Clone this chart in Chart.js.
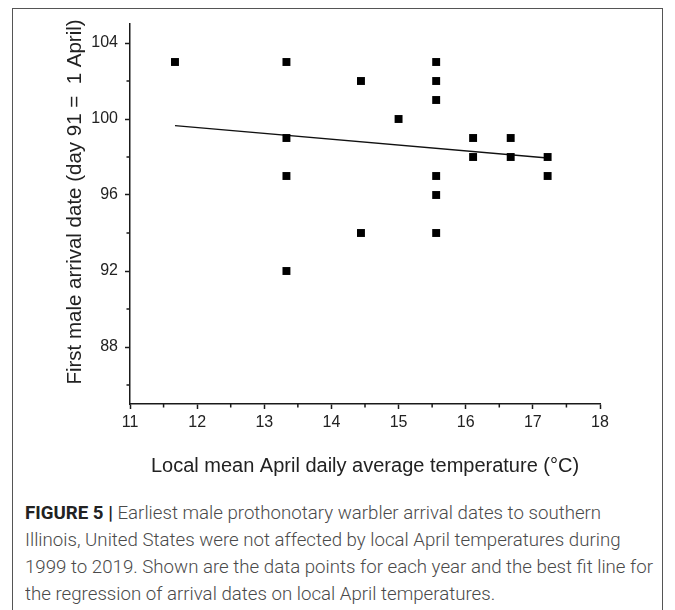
<!DOCTYPE html>
<html><head><meta charset="utf-8">
<script src="https://cdn.jsdelivr.net/npm/chart.js@4.4.1/dist/chart.umd.min.js"></script>
<style>
html,body{margin:0;padding:0;background:#fff;width:675px;height:610px;overflow:hidden;}
#frame{position:absolute;left:12px;top:8px;width:651px;height:700px;border:1.5px solid #555;box-sizing:border-box;}
#wrap{position:absolute;left:0;top:0;width:675px;height:490px;}
#caption{position:absolute;left:25px;top:499px;font-family:Roboto,'Liberation Sans',sans-serif;font-weight:300;font-size:18px;line-height:27px;color:#4a4a4a;}
.line{position:absolute;left:0;white-space:nowrap;transform-origin:0 0;}
.line b{color:#222;font-weight:700;}
</style></head><body>
<div id="frame"></div>
<div id="wrap"><canvas id="c" width="675" height="490"></canvas></div>
<div id="caption">
<div class="line" style="top:0px"><b>FIGURE 5 |</b> Earliest male prothonotary warbler arrival dates to southern</div>
<div class="line" style="top:27px">Illinois, United States were not affected by local April temperatures during</div>
<div class="line" id="refline" style="top:54px">1999 to 2019. Shown are the data points for each year and the best fit line for</div>
<div class="line" style="top:81px">the regression of arrival dates on local April temperatures.</div>
</div>
<script>
// ---- data ----
const tempC = [11.67, 13.33, 13.33, 13.33, 13.33, 14.44, 14.44, 15.0, 15.56, 15.56, 15.56, 15.56, 15.56, 15.56, 16.11, 16.11, 16.67, 16.67, 17.22, 17.22];
const arrivalDay = [103, 103, 99, 97, 92, 102, 94, 100, 103, 102, 101, 97, 96, 94, 99, 98, 99, 98, 98, 97];
const fitX = [11.67, 17.22];
const fitY = [99.65, 97.95];
const xMajorTicks = [11, 12, 13, 14, 15, 16, 17, 18];
const xMinorTicks = [11.5, 12.5, 13.5, 14.5, 15.5, 16.5, 17.5];
const yMajorTicks = [88, 92, 96, 100, 104];
const yMinorTicks = [86, 90, 94, 98, 102];
const xTitle = 'Local mean April daily average temperature (°C)';
const yTitle = 'First male arrival date (day 91 =  1 April)';

// fit caption width
(function(){
  const ref = document.getElementById('refline');
  const w = ref.getBoundingClientRect().width;
  const s = 628 / w;
  document.querySelectorAll('.line').forEach(el => el.style.transform = 'scaleX(' + s + ')');
})();

const axisColor = '#1a1a1a';
const fontFam = "'Liberation Sans', Arial, sans-serif";
const tickFont = {family: fontFam, size: 16};

const extrasPlugin = {
  id: 'extras',
  afterDraw(chart) {
    const ctx = chart.ctx;
    const xs = chart.scales.x, ys = chart.scales.y;
    const a = chart.chartArea;
    ctx.save();
    ctx.strokeStyle = axisColor;
    ctx.lineWidth = 1.5;
    ctx.beginPath();
    xMinorTicks.forEach(v => {
      const px = xs.getPixelForValue(v);
      ctx.moveTo(px, a.bottom); ctx.lineTo(px, a.bottom + 3.5);
    });
    yMinorTicks.forEach(v => {
      const py = ys.getPixelForValue(v);
      ctx.moveTo(a.left, py); ctx.lineTo(a.left - 3.5, py);
    });
    ctx.stroke();
    // y axis title
    ctx.translate(75, 202);
    ctx.rotate(-Math.PI / 2);
    ctx.fillStyle = '#222';
    ctx.font = '20.5px ' + fontFam;
    ctx.textAlign = 'center';
    ctx.textBaseline = 'middle';
    ctx.fillText(yTitle, 0, 0);
    ctx.restore();
  }
};

new Chart(document.getElementById('c'), {
  type: 'scatter',
  data: {
    datasets: [
      {
        type: 'scatter',
        data: tempC.map((t, i) => ({x: t, y: arrivalDay[i]})),
        backgroundColor: '#000',
        borderWidth: 0,
        pointStyle: 'rect',
        pointRadius: 5.6,
        pointHoverRadius: 5.6
      },
      {
        type: 'line',
        data: fitX.map((x, i) => ({x: x, y: fitY[i]})),
        borderColor: '#111',
        borderWidth: 1.4,
        pointRadius: 0,
        fill: false
      }
    ]
  },
  options: {
    responsive: false,
    animation: false,
    devicePixelRatio: 1,
    layout: {padding: {left: 0, top: 24, right: 75, bottom: 0}},
    plugins: {legend: {display: false}, tooltip: {enabled: false}},
    scales: {
      x: {
        type: 'linear', min: 11, max: 18,
        afterBuildTicks: s => { s.ticks = xMajorTicks.map(v => ({value: v})); },
        afterFit: s => { s.height = 86; },
        ticks: {font: tickFont, color: '#222', padding: 4, maxRotation: 0, autoSkip: false, callback: v => String(v)},
        grid: {drawOnChartArea: false, drawTicks: true, tickLength: 5, tickWidth: 1.5, tickColor: axisColor},
        border: {display: true, color: axisColor, width: 1.5},
        title: {display: true, text: xTitle, color: '#222', font: {family: fontFam, size: 20}, padding: {top: 0, bottom: 12}}
      },
      y: {
        type: 'linear', min: 85, max: 105,
        afterBuildTicks: s => { s.ticks = yMajorTicks.map(v => ({value: v})); },
        afterFit: s => { s.width = 130; },
        ticks: {font: tickFont, color: '#222', padding: 7, autoSkip: false, callback: v => String(v)},
        grid: {drawOnChartArea: false, drawTicks: true, tickLength: 5, tickWidth: 1.5, tickColor: axisColor},
        border: {display: true, color: axisColor, width: 1.5},
        title: {display: false}
      }
    }
  },
  plugins: [extrasPlugin]
});
</script>
</body></html>
